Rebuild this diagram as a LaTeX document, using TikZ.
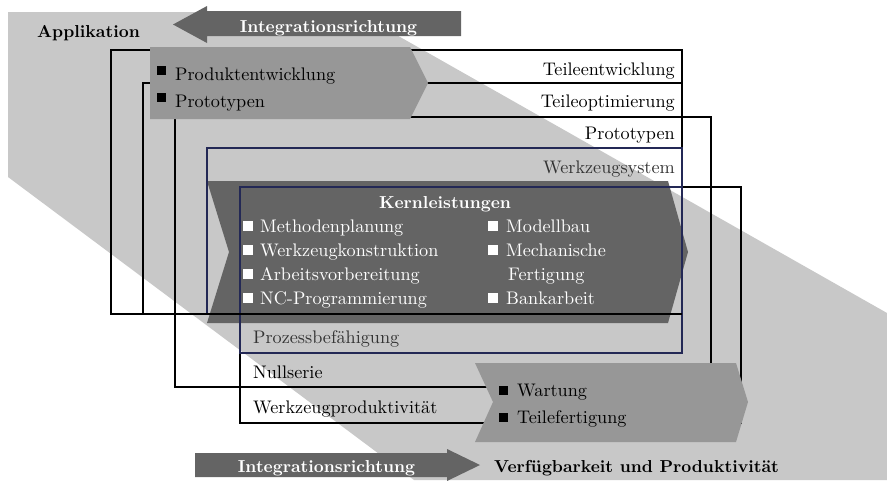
\documentclass[tikz,border=0pt]{standalone}
\usepackage{fontspec}
\setmainfont{lmroman10-regular}[Extension=.otf, BoldFont=lmroman10-bold]
\definecolor{bandgray}{HTML}{C8C8C8}
\definecolor{midgray}{HTML}{979797}
\definecolor{darkfill}{HTML}{646464}
\definecolor{navyline}{RGB}{35,40,85}
\definecolor{softtext}{HTML}{333333}
\tikzset{
  lbl/.style={inner sep=0pt, font=\fontsize{18.2}{22}\selectfont},
  bld/.style={inner sep=0pt, font=\fontsize{17.3}{22}\selectfont\bfseries},
  blackbox/.style={draw=black, line width=1.1pt},
  navybox/.style={draw=navyline, line width=1.1pt},
  sqb/.style={fill=black, inner sep=0pt, minimum size=9pt, draw=none},
  sqw/.style={fill=white, inner sep=0pt, minimum size=9.5pt, draw=none},
}
\begin{document}
\begin{tikzpicture}[x=1pt,y=-1pt]
\useasboundingbox (0,0) rectangle (887,480);
% background band
\fill[bandgray] (8,12) -- (356,12) -- (887,313) -- (887,480) -- (414,480) -- (8,177) -- cycle;
% direction arrows
\fill[darkfill] (173,24.5) -- (207,6) -- (207,11) -- (461,11) -- (461,36) -- (207,36) -- (207,43) -- cycle;
\fill[darkfill] (195,453) -- (447,453) -- (447,449) -- (480,465) -- (447,481) -- (447,477) -- (195,477) -- cycle;
% core chevron
\fill[darkfill] (207,181) -- (668,181) -- (688,252) -- (668,323) -- (207,323) -- (229,252) -- cycle;
% boxes
\draw[blackbox] (111,50) rectangle (682,314);
\draw[blackbox] (143,83) rectangle (682,314);
\draw[blackbox] (175,117) rectangle (711,387);
\draw[blackbox] (240,187) rectangle (741,423);
\draw[navybox] (207,148) rectangle (682,314);
\draw[navybox] (240,187) rectangle (682,353);
\draw[blackbox] (111,314) -- (682,314);
% medium arrows
\fill[midgray] (150,47) -- (410,47) -- (428,83) -- (410,119) -- (150,119) -- cycle;
\fill[midgray] (475,363) -- (736,363) -- (748,402) -- (736,442) -- (475,442) -- (493,402) -- cycle;
% texts
\node[bld, anchor=base west] (appl) at (37,37) {Applikation};
\node[bld, anchor=base, text=white] (intTop) at (328.5,32) {Integrationsrichtung};
\node[sqb] (sq1) at (161.5,70.5) {};
\node[lbl, anchor=base west] (pe) at (175,80) {Produktentwicklung};
\node[sqb] (sq2) at (161.5,97.5) {};
\node[lbl, anchor=base west] (pt) at (175,107) {Prototypen};
\node[lbl, anchor=base east] (te) at (675,75) {Teileentwicklung};
\node[lbl, anchor=base east] (to) at (675,107) {Teileoptimierung};
\node[lbl, anchor=base east] (pr) at (675,139) {Prototypen};
\node[lbl, anchor=base east, text=softtext] (ws) at (675,173) {Werkzeugsystem};
\node[bld, anchor=base, text=white] (kern) at (445,208) {Kernleistungen};
\node[sqw] (k1) at (248,226) {};
\node[lbl, anchor=base west, text=white] (m1) at (260,232) {Methodenplanung};
\node[sqw] (k2) at (248,250) {};
\node[lbl, anchor=base west, text=white] (m2) at (260,256) {Werkzeugkonstruktion};
\node[sqw] (k3) at (248,274) {};
\node[lbl, anchor=base west, text=white] (m3) at (260,280) {Arbeitsvorbereitung};
\node[sqw] (k4) at (248,298) {};
\node[lbl, anchor=base west, text=white] (m4) at (260,304) {NC-Programmierung};
\node[sqw] (k5) at (493,226) {};
\node[lbl, anchor=base west, text=white] (m5) at (506,232) {Modellbau};
\node[sqw] (k6) at (493,250) {};
\node[lbl, anchor=base west, text=white] (m6) at (506,256) {Mechanische};
\node[lbl, anchor=base west, text=white] (m7) at (508,280) {Fertigung};
\node[sqw] (k8) at (493,298) {};
\node[lbl, anchor=base west, text=white] (m8) at (506,304) {Bankarbeit};
\node[lbl, anchor=base west, text=softtext] (pb) at (253,343) {Prozessbefähigung};
\node[lbl, anchor=base west] (ns) at (253,378) {Nullserie};
\node[lbl, anchor=base west] (wp) at (253,413) {Werkzeugproduktivität};
\node[sqb] (w1) at (503.5,390.5) {};
\node[lbl, anchor=base west] (wt) at (517,396) {Wartung};
\node[sqb] (w2) at (503.5,417.5) {};
\node[lbl, anchor=base west] (tf) at (517,423) {Teilefertigung};
\node[bld, anchor=base, text=white] (intBot) at (326.5,472) {Integrationsrichtung};
\node[bld, anchor=base west] (vp) at (494,472) {Verfügbarkeit und Produktivität};
\end{tikzpicture}
\end{document}
